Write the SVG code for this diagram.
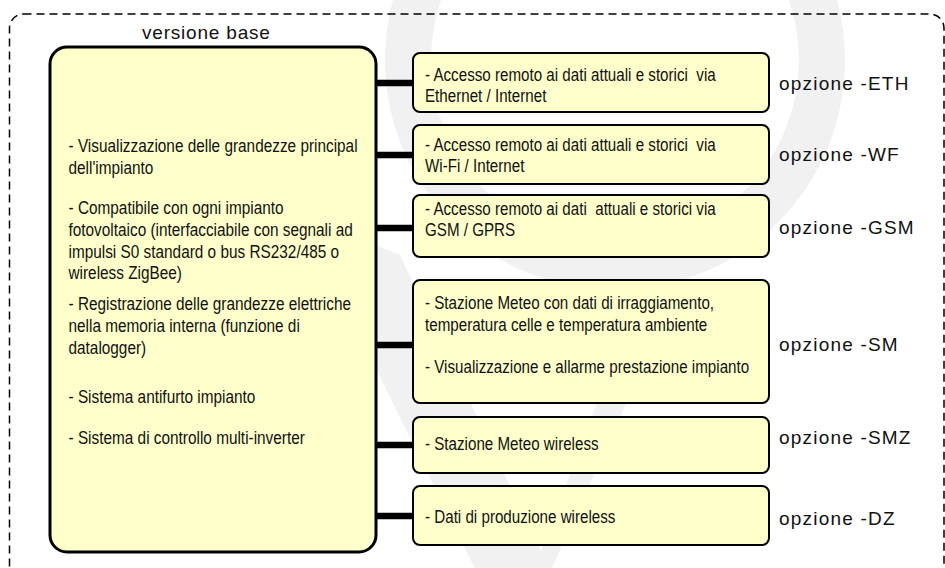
<svg xmlns="http://www.w3.org/2000/svg" width="945" height="568" viewBox="0 0 945 568">
<style>
.frame{fill:none;stroke:#000;stroke-width:1.5;stroke-dasharray:8 5}
.box{fill:#ffffcc;stroke:#000;stroke-width:2}
.main{fill:#ffffcc;stroke:#000;stroke-width:3}
.conn{stroke:#000;stroke-width:6.5}
.t{font-family:"Liberation Sans",Arial,sans-serif;font-size:18.5px;fill:#111;white-space:pre}
.lbl{font-family:"Liberation Sans",Arial,sans-serif;font-size:19px;letter-spacing:1.2px;fill:#111}
.wm{fill:#f1f1f1}
</style>
<rect width="945" height="568" fill="#fff"/>
<g id="watermark">
<circle cx="615" cy="60" r="207" fill="none" stroke="#f1f1f1" stroke-width="46"/>
<polygon class="wm" points="300,215 400,255 541,551 650,262 690,262 515,650"/>
</g>
<rect class="frame" x="9.5" y="14" width="934.5" height="580" rx="14"/>
<text class="lbl" x="142" y="39" style="letter-spacing:0.8px">versione base</text>
<g id="connectors">
<line class="conn" x1="376" y1="83" x2="414" y2="83"/>
<line class="conn" x1="376" y1="155" x2="414" y2="155"/>
<line class="conn" x1="376" y1="228" x2="414" y2="228"/>
<line class="conn" x1="376" y1="345" x2="414" y2="345"/>
<line class="conn" x1="376" y1="445" x2="414" y2="445"/>
<line class="conn" x1="376" y1="516" x2="414" y2="516"/>
</g>
<g id="base">
<rect class="main" x="50" y="47" width="326" height="505" rx="17"/>
<text class="t" transform="translate(68.5 0) scale(0.83 1)">
<tspan x="0" y="152">- Visualizzazione delle grandezze principal</tspan>
<tspan x="0" y="173.7">dell'impianto</tspan>
<tspan x="0" y="214">- Compatibile con ogni impianto</tspan>
<tspan x="0" y="236">fotovoltaico (interfacciabile con segnali ad</tspan>
<tspan x="0" y="258">impulsi S0 standard o bus RS232/485 o</tspan>
<tspan x="0" y="279">wireless ZigBee)</tspan>
<tspan x="0" y="310">- Registrazione delle grandezze elettriche</tspan>
<tspan x="0" y="332">nella memoria interna (funzione di</tspan>
<tspan x="0" y="354">datalogger)</tspan>
<tspan x="0" y="403">- Sistema antifurto impianto</tspan>
<tspan x="0" y="444">- Sistema di controllo multi-inverter</tspan>
</text>
</g>
<g id="eth">
<rect class="box" x="413" y="53" width="356" height="59" rx="7"/>
<text class="t" transform="translate(425 0) scale(0.82 1)"><tspan x="0" y="81">- Accesso remoto ai dati attuali e storici  via</tspan><tspan x="0" y="102">Ethernet / Internet</tspan></text>
<text class="lbl" x="779" y="89.5">opzione -ETH</text>
</g>
<g id="wf">
<rect class="box" x="413" y="125" width="356" height="59" rx="7"/>
<text class="t" transform="translate(425 0) scale(0.82 1)"><tspan x="0" y="151">- Accesso remoto ai dati attuali e storici  via</tspan><tspan x="0" y="172">Wi-Fi / Internet</tspan></text>
<text class="lbl" x="779" y="161">opzione -WF</text>
</g>
<g id="gsm">
<rect class="box" x="413" y="195" width="356" height="62" rx="7"/>
<text class="t" transform="translate(425 0) scale(0.82 1)"><tspan x="0" y="215">- Accesso remoto ai dati  attuali e storici via</tspan><tspan x="0" y="236">GSM / GPRS</tspan></text>
<text class="lbl" x="779" y="234">opzione -GSM</text>
</g>
<g id="sm">
<rect class="box" x="413" y="280" width="356" height="123" rx="7"/>
<text class="t" transform="translate(425 0) scale(0.82 1)"><tspan x="0" y="309">- Stazione Meteo con dati di irraggiamento,</tspan><tspan x="0" y="331">temperatura celle e temperatura ambiente</tspan><tspan x="0" y="373.5">- Visualizzazione e allarme prestazione impianto</tspan></text>
<text class="lbl" x="779" y="351">opzione -SM</text>
</g>
<g id="smz">
<rect class="box" x="413" y="417" width="356" height="56" rx="7"/>
<text class="t" transform="translate(425 0) scale(0.82 1)" x="0" y="450">- Stazione Meteo wireless</text>
<text class="lbl" x="779" y="444">opzione -SMZ</text>
</g>
<g id="dz">
<rect class="box" x="413" y="486" width="356" height="59" rx="7"/>
<text class="t" transform="translate(425 0) scale(0.82 1)" x="0" y="523">- Dati di produzione wireless</text>
<text class="lbl" x="779" y="525">opzione -DZ</text>
</g>
</svg>
